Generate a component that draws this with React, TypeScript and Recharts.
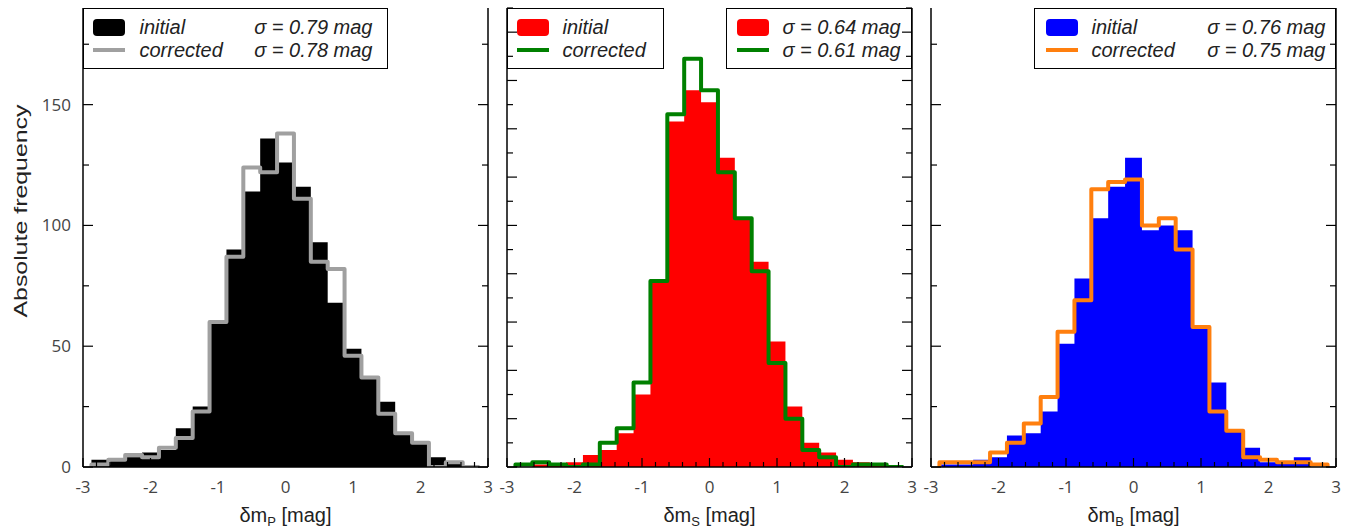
// =============================================================================
// Magnitude residual histograms - three panels, initial vs corrected
// =============================================================================

import { ComposedChart, Area, Line, XAxis, YAxis, Legend } from 'recharts';

// =============================================================================
// Data
// =============================================================================

// Histogram bin edges (mag), 0.25 mag wide
const BIN_EDGES = [
  -2.875, -2.625, -2.375, -2.125, -1.875, -1.625, -1.375, -1.125, -0.875, -0.625, -0.375, -0.125,
  0.125, 0.375, 0.625, 0.875, 1.125, 1.375, 1.625, 1.875, 2.125, 2.375, 2.625, 2.875,
];

const X_TICK_LABELS = [-3, -2, -1, 0, 1, 2, 3];
const Y_TICK_LABELS = [0, 50, 100, 150];

// counts per bin (23 bins)
const P_INITIAL = [3, 3, 4, 6, 7, 16, 25, 60, 90, 114, 136, 126, 116, 93, 68, 49, 37, 27, 14, 10, 4, 2, 0];
const P_CORRECTED = [1, 3, 5, 4, 8, 12, 23, 60, 87, 124, 122, 138, 111, 85, 82, 46, 37, 22, 14, 10, 0, 2, 0];

const S_INITIAL = [0, 1, 1, 2, 5, 7, 14, 30, 77, 143, 156, 151, 128, 103, 85, 52, 25, 10, 6, 3, 2, 1, 0];
const S_CORRECTED = [1, 2, 1, 0, 1, 10, 16, 35, 77, 146, 169, 156, 122, 103, 81, 43, 20, 7, 4, 0, 1, 1, 0];

const B_INITIAL = [1, 1, 3, 4, 13, 14, 23, 51, 78, 103, 116, 128, 98, 100, 98, 58, 35, 15, 8, 2, 2, 4, 0];
const B_CORRECTED = [2, 2, 2, 6, 10, 18, 29, 56, 69, 115, 118, 119, 100, 103, 90, 58, 23, 15, 4, 3, 2, 2, 1];

const SERIES_NAMES = ['initial', 'corrected'];
const SIGMA_P = ['σ = 0.79 mag', 'σ = 0.78 mag'];
const SIGMA_S = ['σ = 0.64 mag', 'σ = 0.61 mag'];
const SIGMA_B = ['σ = 0.76 mag', 'σ = 0.75 mag'];

// =============================================================================
// Constants
// =============================================================================

const FONT = "'Open Sans', 'Liberation Sans', sans-serif";
const LEGEND_FONT = "'Liberation Sans', Arial, sans-serif";
const Y_MAX = 190;
const HEIGHT = 528;

// minor x ticks every 0.2 mag
const X_TICKS = Array.from({ length: 31 }, (_, i) => Math.round((-3 + i * 0.2) * 10) / 10);
const yTicks = (step: number) =>
  Array.from({ length: Math.floor(Y_MAX / step) + 1 }, (_, i) => i * step);

const isMajor = (v: number, step: number) => Math.abs(v / step - Math.round(v / step)) < 1e-6;

// step rows: start at baseline, one row per bin edge, back to baseline at the end
function buildRows(initial: number[], corrected: number[]) {
  const rows = [{ x: BIN_EDGES[0], initial: 0, corrected: 0 }];
  initial.forEach((v, i) => rows.push({ x: BIN_EDGES[i], initial: v, corrected: corrected[i] }));
  rows.push({ x: BIN_EDGES[BIN_EDGES.length - 1], initial: 0, corrected: 0 });
  return rows;
}

// =============================================================================
// Ticks (drawn inside the frame)
// =============================================================================

function makeXTick(side: 'bottom' | 'top', showLabel: boolean) {
  return (props: any) => {
    const { x, y, payload } = props;
    const v = payload.value as number;
    const major = X_TICK_LABELS.some((t) => Math.abs(t - v) < 1e-6);
    const len = major ? 9 : 5;
    const dir = side === 'bottom' ? -1 : 1;
    return (
      <g>
        <line x1={x} x2={x} y1={y} y2={y + dir * len} stroke="#000" strokeWidth={1.2} />
        {showLabel && major && (
          <text x={x} y={y + 26} textAnchor="middle" fontSize={17} fill="#444" fontFamily={FONT}>
            {v}
          </text>
        )}
      </g>
    );
  };
}

function makeYTick(side: 'left' | 'right', majorStep: number, showLabel: boolean) {
  return (props: any) => {
    const { x, y, payload } = props;
    const v = payload.value as number;
    const major = isMajor(v, majorStep);
    const len = major ? 10 : 6;
    const dir = side === 'left' ? 1 : -1;
    return (
      <g>
        <line x1={x} x2={x + dir * len} y1={y} y2={y} stroke="#000" strokeWidth={1.2} />
        {showLabel && Y_TICK_LABELS.includes(v) && (
          <text x={x - 12} y={y} dy="0.35em" textAnchor="end" fontSize={17} fill="#444" fontFamily={FONT}>
            {v}
          </text>
        )}
      </g>
    );
  };
}

// =============================================================================
// Legend boxes
// =============================================================================

interface LegendBoxProps {
  left: number;
  width: number;
  fill: string;
  stroke: string;
  swatchX: number;
  labels: string[];
  labelX: number;
  values?: string[];
  valuesRight?: number;
}

function LegendBox({ left, width, fill, stroke, swatchX, labels, labelX, values, valuesRight }: LegendBoxProps) {
  const rowTop = [6.5, 29.5];
  const rowStyle = { position: 'absolute' as const, lineHeight: '23px', height: 23, whiteSpace: 'nowrap' as const };
  return (
    <div
      style={{
        position: 'absolute',
        left,
        top: 0,
        width,
        height: 61,
        border: '1.5px solid #000',
        boxSizing: 'border-box',
        fontFamily: LEGEND_FONT,
        fontStyle: 'italic',
        fontSize: 20,
        color: '#222',
      }}
    >
      <div style={{ position: 'absolute', left: swatchX, top: 9.5, width: 32, height: 17, borderRadius: 4, background: fill }} />
      <div style={{ position: 'absolute', left: swatchX, top: 38.5, width: 32, height: 4, background: stroke }} />
      {labels.map((t, i) => (
        <div key={t} style={{ ...rowStyle, left: labelX, top: rowTop[i] }}>
          {t}
        </div>
      ))}
      {values &&
        values.map((t, i) => (
          <div key={t} style={{ ...rowStyle, right: valuesRight, top: rowTop[i] }}>
            {t}
          </div>
        ))}
    </div>
  );
}

// =============================================================================
// Panel
// =============================================================================

interface PanelProps {
  left: number;
  width: number;
  leftW: number;
  rightW: number;
  initial: number[];
  corrected: number[];
  fill: string;
  stroke: string;
  sub: string;
  yStep: number;
  yMajor: number;
  yLabels: boolean;
  legendLeft: number;
  legendWidth: number;
  legend: () => JSX.Element;
}

function Panel(p: PanelProps) {
  const data = buildRows(p.initial, p.corrected);
  const ticksY = yTicks(p.yStep);
  const frame = { stroke: '#000', strokeWidth: 1.5 };

  return (
    <div style={{ position: 'absolute', left: p.left, top: 0 }}>
      <ComposedChart width={p.width} height={HEIGHT} data={data} margin={{ top: 8, right: 0, bottom: 0, left: 0 }}>
        <Area
          dataKey="initial"
          type="stepAfter"
          fill={p.fill}
          fillOpacity={1}
          stroke="none"
          baseValue={0}
          isAnimationActive={false}
        />
        <Line
          dataKey="corrected"
          type="stepAfter"
          stroke={p.stroke}
          strokeWidth={4}
          strokeLinejoin="round"
          dot={false}
          isAnimationActive={false}
        />
        <XAxis
          dataKey="x"
          type="number"
          domain={[-3, 3]}
          allowDataOverflow
          ticks={X_TICKS}
          interval={0}
          height={61}
          tickSize={0}
          tickMargin={0}
          tickLine={false}
          axisLine={frame}
          tick={makeXTick('bottom', true)}
          label={{
            content: (props: any) => {
              const vb = props.viewBox;
              return (
                <text
                  x={vb.x + vb.width / 2}
                  y={vb.y + 55}
                  textAnchor="middle"
                  fontSize={20}
                  fill="#222"
                  fontFamily="'Liberation Sans', sans-serif"
                >
                  <tspan>δm</tspan>
                  <tspan dy={4} fontSize={13}>{p.sub}</tspan>
                  <tspan dy={-4}> [mag]</tspan>
                </text>
              );
            },
          }}
        />
        <XAxis
          xAxisId="top"
          orientation="top"
          type="number"
          domain={[-3, 3]}
          allowDataOverflow
          ticks={X_TICKS}
          interval={0}
          height={0}
          tickSize={0}
          tickMargin={0}
          tickLine={false}
          axisLine={frame}
          tick={makeXTick('top', false)}
        />
        <YAxis
          type="number"
          domain={[0, Y_MAX]}
          allowDataOverflow
          ticks={ticksY}
          interval={0}
          width={p.leftW}
          tickSize={0}
          tickMargin={0}
          tickLine={false}
          axisLine={frame}
          tick={makeYTick('left', p.yMajor, p.yLabels)}
          label={
            p.yLabels
              ? {
                  content: () => (
                    <text
                      x={20}
                      y={211}
                      transform="rotate(-90 20 211)"
                      textAnchor="middle"
                      dominantBaseline="central"
                      fontSize={19}
                      fill="#222"
                      fontFamily="'Liberation Sans', sans-serif"
                      textLength={213}
                      lengthAdjust="spacingAndGlyphs"
                    >
                      Absolute frequency
                    </text>
                  ),
                }
              : undefined
          }
        />
        <YAxis
          yAxisId="right"
          orientation="right"
          type="number"
          domain={[0, Y_MAX]}
          allowDataOverflow
          ticks={ticksY}
          interval={0}
          width={p.rightW}
          tickSize={0}
          tickMargin={0}
          tickLine={false}
          axisLine={frame}
          tick={makeYTick('right', p.yMajor, false)}
        />
        <Legend
          layout="vertical"
          verticalAlign="middle"
          align="center"
          wrapperStyle={{ left: p.legendLeft, top: 8, width: p.legendWidth, height: 61 }}
          content={p.legend}
        />
      </ComposedChart>
    </div>
  );
}

// =============================================================================
// App
// =============================================================================

export default function App() {
  return (
    <div style={{ position: 'absolute', left: 0, top: 0, width: 1348, height: HEIGHT, background: '#fff' }}>
      <Panel
        left={0}
        width={500}
        leftW={83}
        rightW={12}
        initial={P_INITIAL}
        corrected={P_CORRECTED}
        fill="#000000"
        stroke="#a0a0a0"
        sub="P"
        yStep={25}
        yMajor={50}
        yLabels
        legendLeft={83}
        legendWidth={305}
        legend={() => (
          <LegendBox
            left={0}
            width={305}
            fill="#000000"
            stroke="#a0a0a0"
            swatchX={8.5}
            labels={SERIES_NAMES}
            labelX={55.5}
            values={SIGMA_P}
            valuesRight={14.5}
          />
        )}
      />
      <Panel
        left={490}
        width={435}
        leftW={17}
        rightW={13}
        initial={S_INITIAL}
        corrected={S_CORRECTED}
        fill="#ff0000"
        stroke="#008000"
        sub="S"
        yStep={10}
        yMajor={20}
        yLabels={false}
        legendLeft={17}
        legendWidth={405}
        legend={() => (
          <div style={{ position: 'relative', width: 405, height: 61 }}>
            <LegendBox left={0} width={157} fill="#ff0000" stroke="#008000" swatchX={8.5} labels={SERIES_NAMES} labelX={54.5} />
            <LegendBox left={219} width={186} fill="#ff0000" stroke="#008000" swatchX={9.5} labels={SIGMA_S} labelX={55.5} />
          </div>
        )}
      />
      <Panel
        left={915}
        width={433}
        leftW={16}
        rightW={12}
        initial={B_INITIAL}
        corrected={B_CORRECTED}
        fill="#0000ff"
        stroke="#ff7f0e"
        sub="B"
        yStep={25}
        yMajor={50}
        yLabels={false}
        legendLeft={119}
        legendWidth={302}
        legend={() => (
          <LegendBox
            left={0}
            width={302}
            fill="#0000ff"
            stroke="#ff7f0e"
            swatchX={10.5}
            labels={SERIES_NAMES}
            labelX={56.5}
            values={SIGMA_B}
            valuesRight={9.5}
          />
        )}
      />
    </div>
  );
}
